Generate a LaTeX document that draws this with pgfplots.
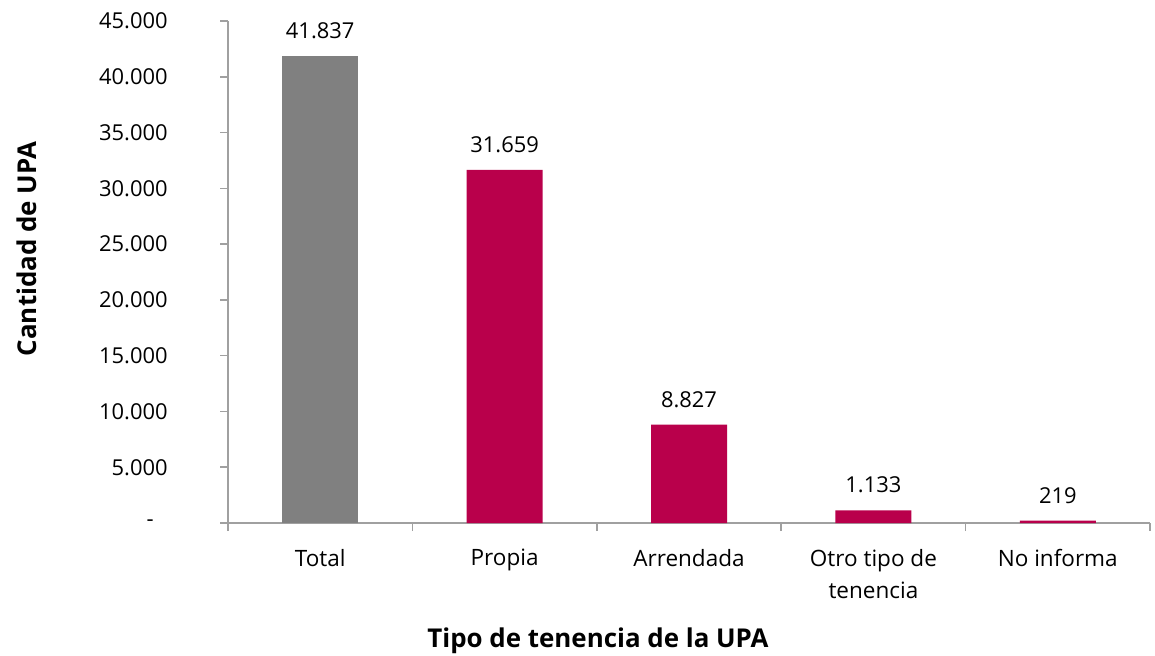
\documentclass[border=0pt]{standalone}
\usepackage{pgfplots}
\pgfplotsset{compat=1.18}
\usepackage{fontspec}
\setmainfont{Open Sans}
\definecolor{barred}{HTML}{B9004B}
\definecolor{bargray}{HTML}{808080}
\definecolor{axgray}{HTML}{A0A0A0}
\begin{document}
\begin{tikzpicture}
\path[use as bounding box] (0,0) rectangle (577.5bp,328bp);
\begin{axis}[
  at={(114bp,66.5bp)}, anchor=south west,
  scale only axis, width=461bp, height=251bp,
  xmin=-0.5, xmax=4.5, ymin=0, ymax=45000,
  scaled y ticks=false,
  axis x line=bottom, axis y line=left,
  axis line style={-, draw=axgray, line width=0.75bp},
  every tick/.style={draw=axgray, line width=0.75bp},
  tick align=outside,
  xtick={0,1,2,3,4},
  xticklabels={Total,Propia,Arrendada,{Otro tipo de\\tenencia},No informa},
  major x tick style={draw=none},
  minor xtick={-0.5,0.5,1.5,2.5,3.5,4.5},
  minor tick length=4bp,
  major tick length=4bp,
  ytick={0,5000,10000,15000,20000,25000,30000,35000,40000,45000},
  yticklabels={-\kern7bp,5.000,10.000,15.000,20.000,25.000,30.000,35.000,40.000,45.000},
  yticklabel style={font=\fontsize{11}{13}\selectfont, inner sep=0pt, xshift=-26bp},
  xticklabel style={font=\fontsize{11.3}{16}\selectfont, align=center, anchor=north, inner sep=0pt, yshift=-9bp},
  /pgf/number format/assume math mode=true,
  ybar, bar width=38bp, bar shift=0pt,
  nodes near coords={\pgfmathprintnumber[1000 sep={.}]{\pgfplotspointmeta}},
  nodes near coords style={font=\fontsize{11}{13}\selectfont, anchor=base, inner sep=0pt, yshift=8.75bp, black},
  clip=false,
]
\addplot[fill=bargray, draw=none] coordinates {(0,41837)};
\addplot[fill=barred, draw=none] coordinates {(1,31659) (2,8827) (3,1133) (4,219)};
\end{axis}
\node[rotate=90, font=\fontsize{13}{15}\selectfont\bfseries] at (13.5bp,203.5bp) {Cantidad de UPA};
\node[font=\fontsize{13}{15}\selectfont\bfseries] at (299bp,7.5bp) {Tipo de tenencia de la UPA};
\end{tikzpicture}
\end{document}
